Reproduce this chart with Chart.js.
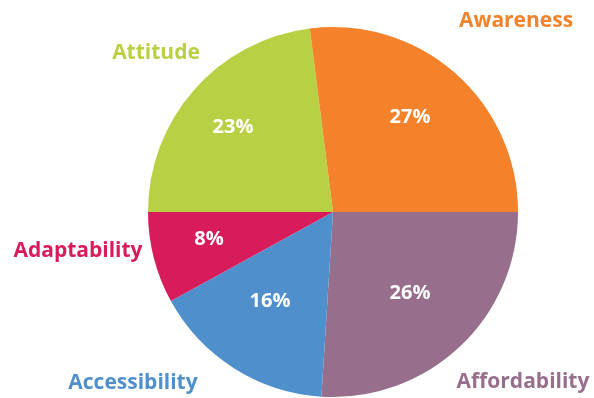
<!DOCTYPE html>
<html>
<head>
<meta charset="utf-8">
<script src="https://cdn.jsdelivr.net/npm/chart.js@4/dist/chart.umd.min.js"></script>
<style>
    html, body { margin: 0; padding: 0; background: #fff; }
    #wrap { width: 594px; height: 398px; }
</style>
</head>
<body>
<div id="wrap"><canvas id="pie_chart"></canvas></div>
<script>
// slices go clockwise from 3 o'clock
const categorias = ['Affordability', 'Accessibility', 'Adaptability', 'Attitude', 'Awareness'];
const porcentajes = [26, 16, 8, 23, 27];
const colores = ['#976f8d', '#4e8fcc', '#d81b5b', '#b8d144', '#f4822a'];

// label anchors, relative to the pie centre
const posNombres = [[190, 170], [-200, 171], [-255, 39], [-177, -159], [183, -191]];
const posPorcentajes = [[77, 81], [-63, 89], [-124, 27], [-100, -85], [77, -95]];

const etiquetas = {
    id: 'etiquetas',
    afterDatasetsDraw(chart) {
        const ctx = chart.ctx;
        const meta = chart.getDatasetMeta(0);
        ctx.save();
        ctx.textAlign = 'center';
        ctx.textBaseline = 'middle';
        meta.data.forEach((arc, i) => {
            const p = arc.getProps(['x', 'y']);
            ctx.font = 'bold 20px "Open Sans"';
            ctx.fillStyle = '#ffffff';
            ctx.fillText(porcentajes[i] + '%', p.x + posPorcentajes[i][0], p.y + posPorcentajes[i][1]);

            ctx.font = 'bold 21px "Open Sans"';
            ctx.fillStyle = colores[i];
            ctx.fillText(categorias[i], p.x + posNombres[i][0], p.y + posNombres[i][1]);
        });
        ctx.restore();
    }
};

new Chart(document.getElementById('pie_chart').getContext('2d'), {
    type: 'pie',
    data: {
        labels: categorias,
        datasets: [{
            data: porcentajes,
            backgroundColor: colores,
            borderWidth: 0
        }]
    },
    options: {
        responsive: true,
        maintainAspectRatio: false,
        animation: false,
        rotation: 90,
        layout: { padding: { top: 27, bottom: 1, left: 148, right: 76 } },
        plugins: {
            legend: { display: false },
            tooltip: { enabled: false }
        }
    },
    plugins: [etiquetas]
});
</script>
</body>
</html>
